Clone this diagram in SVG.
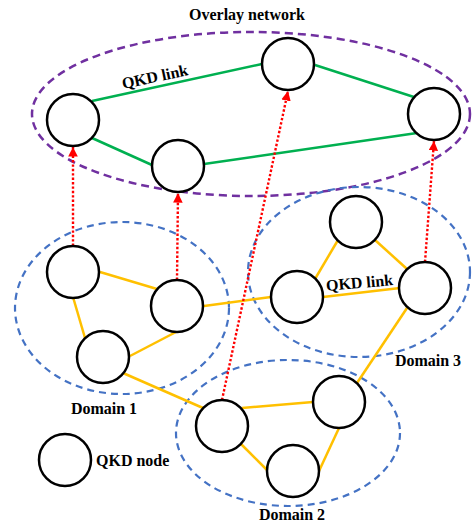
<svg xmlns="http://www.w3.org/2000/svg" width="472" height="523" viewBox="0 0 472 523">
<defs>
<style>
.node{fill:#fff;stroke:#000;stroke-width:2.5}
.ov{fill:none;stroke:#7030A0;stroke-width:2.5;stroke-dasharray:8 5}
.dom{fill:none;stroke:#4472C4;stroke-width:2.2;stroke-dasharray:7 5}
.g{stroke:#00B050;stroke-width:2.5;fill:none}
.y{stroke:#FFC000;stroke-width:2.5;fill:none}
.r{stroke:#FF0000;stroke-width:2.4;stroke-dasharray:2.4 2;fill:none}
.t{font-family:"Liberation Serif","Times New Roman",serif;font-weight:bold;font-size:16px;fill:#000}
</style>
<marker id="ah" viewBox="0 0 10 10" refX="10" refY="5" markerWidth="4" markerHeight="4" orient="auto" markerUnits="strokeWidth">
<path d="M0,0 L10,5 L0,10 z" fill="#FF0000"/>
</marker>
</defs>
<rect width="472" height="523" fill="#fff"/>
<g id="regions">
<ellipse id="overlay" class="ov" cx="251" cy="114" rx="219" ry="82"/>
<ellipse id="domain1" class="dom" cx="122" cy="308" rx="107" ry="86"/>
<ellipse id="domain3" class="dom" cx="359" cy="272" rx="111" ry="85"/>
<ellipse id="domain2" class="dom" cx="288" cy="433" rx="112" ry="73"/>
</g>
<g id="connectors">
<line class="g" x1="92" y1="101" x2="262" y2="64"/>
<line class="g" x1="315" y1="65" x2="417" y2="98"/>
<line class="g" x1="92" y1="138" x2="152" y2="165"/>
<line class="g" x1="204" y1="164" x2="417" y2="133"/>
<line class="y" x1="100" y1="272" x2="157" y2="289"/>
<line class="y" x1="73" y1="297" x2="85" y2="338"/>
<line class="y" x1="130" y1="356" x2="176" y2="332"/>
<line class="y" x1="204" y1="306" x2="271" y2="297"/>
<line class="y" x1="315" y1="279" x2="338" y2="240"/>
<line class="y" x1="375" y1="240" x2="407" y2="269"/>
<line class="y" x1="323" y1="297" x2="400" y2="288"/>
<line class="y" x1="407" y1="308" x2="357" y2="383"/>
<line class="y" x1="123" y1="373" x2="203" y2="408"/>
<line class="y" x1="242" y1="408" x2="313" y2="402"/>
<line class="y" x1="241" y1="444" x2="267" y2="470"/>
<line class="y" x1="319" y1="471" x2="339" y2="428"/>
<line class="r" x1="73" y1="246" x2="73" y2="147" marker-end="url(#ah)"/>
<line class="r" x1="177" y1="280" x2="178" y2="193" marker-end="url(#ah)"/>
<line class="r" x1="222" y1="400" x2="288" y2="91" marker-end="url(#ah)"/>
<line class="r" x1="425" y1="262" x2="434" y2="141" marker-end="url(#ah)"/>
</g>
<g id="O1"><circle class="node" cx="73" cy="120" r="26"/></g>
<g id="O2"><circle class="node" cx="288" cy="64" r="26"/></g>
<g id="O3"><circle class="node" cx="434" cy="114" r="26"/></g>
<g id="O4"><circle class="node" cx="178" cy="166" r="26"/></g>
<g id="D1a"><circle class="node" cx="73" cy="272" r="26"/></g>
<g id="D1b"><circle class="node" cx="177" cy="306" r="26"/></g>
<g id="D1c"><circle class="node" cx="103" cy="357" r="26"/></g>
<g id="D3a"><circle class="node" cx="356" cy="222" r="26"/></g>
<g id="D3b"><circle class="node" cx="297" cy="297" r="26"/></g>
<g id="D3c"><circle class="node" cx="425" cy="288" r="26"/></g>
<g id="D2a"><circle class="node" cx="222" cy="426" r="26"/></g>
<g id="D2b"><circle class="node" cx="339" cy="402" r="26"/></g>
<g id="D2c"><circle class="node" cx="293" cy="471" r="26"/></g>
<g id="legend"><circle class="node" cx="65" cy="460" r="26"/><text class="t" x="96" y="466">QKD node</text></g>
<g id="labels">
<text class="t" x="247" y="20" text-anchor="middle">Overlay network</text>
<text class="t" x="156" y="82" text-anchor="middle" transform="rotate(-12 156 82)">QKD link</text>
<text class="t" x="360" y="288" text-anchor="middle" transform="rotate(-5 360 288)">QKD link</text>
<text class="t" x="104" y="414" text-anchor="middle">Domain 1</text>
<text class="t" x="428" y="366" text-anchor="middle">Domain 3</text>
<text class="t" x="292" y="520" text-anchor="middle">Domain 2</text>
</g>
</svg>
